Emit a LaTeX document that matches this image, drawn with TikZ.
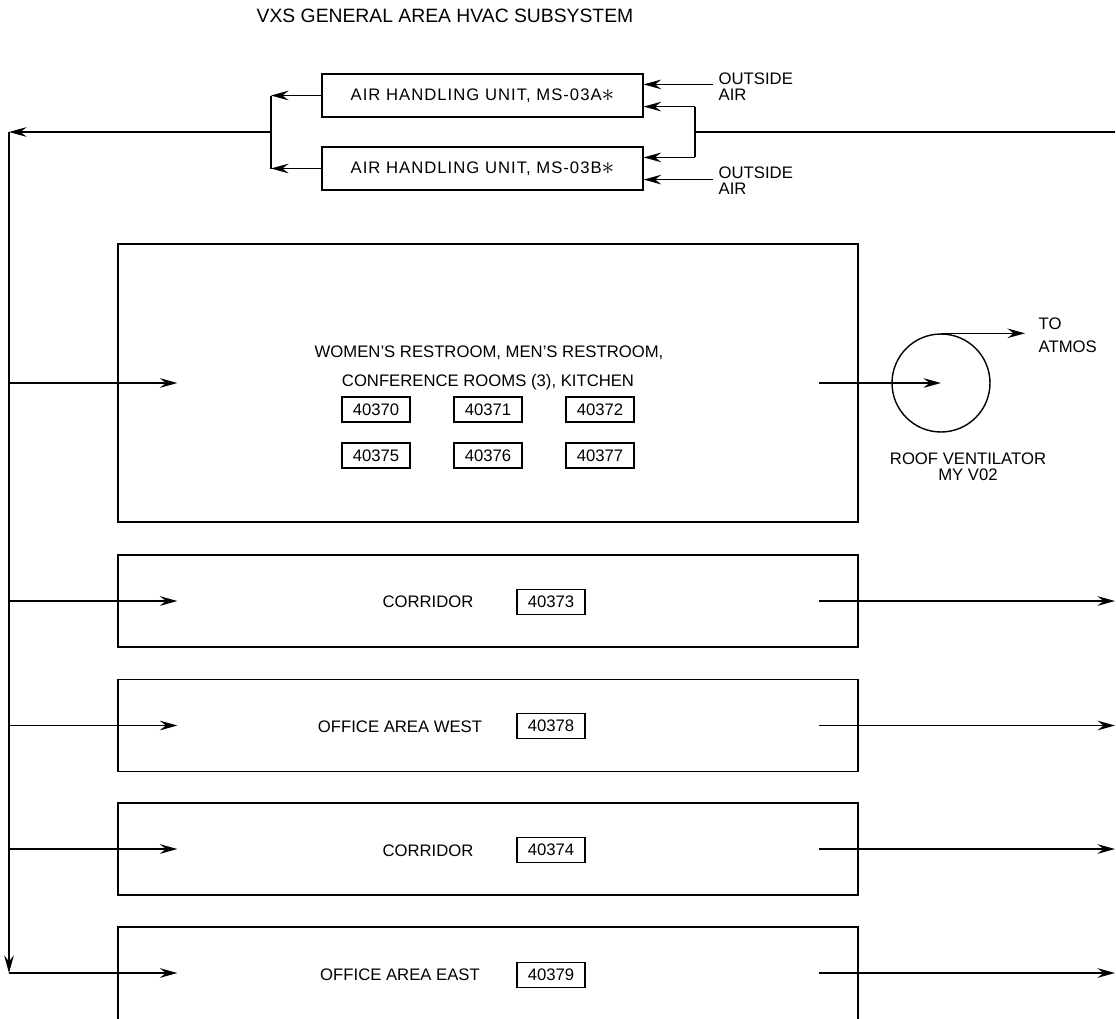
\documentclass[tikz,border=0pt]{standalone}
\usepackage{fontspec}
\setmainfont{Liberation Sans}
\usepackage{tikz}
\usetikzlibrary{arrows.meta,calc}

\newcommand{\unitstar}{\raisebox{-0.5pt}{\fontsize{15}{15}\selectfont$\ast$}}

\begin{document}
\begin{tikzpicture}[
    x=0.02cm, y=-0.02cm,
    line width=0.8pt,
    title/.style={font=\fontsize{11}{13}\selectfont},
    lbl/.style={font=\fontsize{9.5}{9.1}\selectfont, inner sep=0pt},
    unit/.style={rectangle, draw, minimum width=6.42cm, minimum height=0.86cm, inner sep=0pt,
        font=\fontsize{9.5}{11}\selectfont\addfontfeatures{LetterSpace=6}},
    room/.style={rectangle, draw, minimum width=14.8cm, minimum height=1.84cm, inner sep=0pt},
    tag/.style={rectangle, draw, minimum width=1.36cm, minimum height=0.5cm, inner sep=0pt, font=\fontsize{9.5}{11}\selectfont},
    arrow/.style={-{Stealth[length=10pt, width=5.5pt, inset=3.5pt]}}
]
    \path[use as bounding box, clip] (0,0) rectangle (1116,1018);

    \node[title] (title) at (445,16) {VXS GENERAL AREA HVAC SUBSYSTEM};

    % air handling units
    \node[unit] (ahuA) at (482.5,95.5) {AIR HANDLING UNIT, MS-03A\unitstar};
    \node[unit] (ahuB) at (482.5,168.5) {AIR HANDLING UNIT, MS-03B\unitstar};

    \coordinate (split) at (271,132);
    \coordinate (merge) at (695,132);
    \coordinate (busTop) at (9,132);
    \coordinate (busBot) at (9,973);
    \coordinate (edge) at (1115,0);

    \coordinate (oaA) at ($(ahuA.north east)!0.25!(ahuA.south east)$);
    \coordinate (inA) at ($(ahuA.north east)!0.75!(ahuA.south east)$);
    \coordinate (inB) at ($(ahuB.north east)!0.25!(ahuB.south east)$);
    \coordinate (oaB) at ($(ahuB.north east)!0.75!(ahuB.south east)$);

    \node[lbl, align=left, anchor=north west] (oaLblA) at (718,72) {OUTSIDE\\AIR};
    \node[lbl, align=left, anchor=north west] (oaLblB) at (718,166) {OUTSIDE\\AIR};

    \draw[arrow] ($(oaA -| oaLblA.west)+(-5,0)$) -- (oaA);
    \draw[arrow] ($(oaB -| oaLblB.west)+(-5,0)$) -- (oaB);
    \draw[arrow] (inA -| merge) -- (inA);
    \draw[arrow] (inB -| merge) -- (inB);
    \draw (inA -| merge) -- (inB -| merge);
    \draw (merge) -- (merge -| edge);

    \draw[arrow] (ahuA.west) -- (ahuA.west -| split);
    \draw[arrow] (ahuB.west) -- (ahuB.west -| split);
    \draw (ahuA.west -| split) -- (ahuB.west -| split);
    \draw[arrow] (split) -- (busTop);
    \draw[arrow] (busTop) -- (busBot);

    % restrooms, conference rooms, kitchen
    \node[room, minimum height=5.56cm] (wc) at (488,383) {};
    \node[lbl] (wcText) at (489,353) {WOMEN'S RESTROOM, MEN'S RESTROOM,};
    \node[lbl] (wcText2) at (488,382) {CONFERENCE ROOMS (3), KITCHEN};
    \node[tag] (t40370) at (376,409.5) {40370};
    \node[tag] (t40371) at (488,409.5) {40371};
    \node[tag] (t40372) at (600,409.5) {40372};
    \node[tag] (t40375) at (376,455.5) {40375};
    \node[tag] (t40376) at (488,455.5) {40376};
    \node[tag] (t40377) at (600,455.5) {40377};

    \node[circle, draw, minimum size=1.96cm, inner sep=0pt] (fan) at (941,383) {};
    \node[lbl, align=center] (fanLbl) at (968,467) {ROOF VENTILATOR\\MY V02};
    \node[lbl, align=left, anchor=north west, font=\fontsize{9.5}{13}\selectfont] (atmos) at (1038,317) {TO\\ATMOS};

    \draw[arrow] (wc.west -| busTop) -- ($(wc.west)+(60,0)$);
    \draw[arrow] ($(wc.east)+(-40,0)$) -- (fan.center);
    \draw[arrow] (fan.north) -- ($(fan.north -| atmos.west)+(-13,0)$);

    % corridors and offices
    \node[room] (corA) at (488,601) {};
    \node[lbl] (corAText) at (428,602) {CORRIDOR};
    \node[tag] (t40373) at (551,602) {40373};

    \node[room] (offW) at (488,725.5) {};
    \node[lbl] (offWText) at (400,727) {OFFICE AREA WEST};
    \node[tag] (t40378) at (551,726) {40378};

    \node[room] (corB) at (488,849) {};
    \node[lbl] (corBText) at (428,851) {CORRIDOR};
    \node[tag] (t40374) at (551,850) {40374};

    \node[room, minimum height=2cm] (offE) at (488,977) {};
    \node[lbl] (offEText) at (400,975) {OFFICE AREA EAST};
    \node[tag] (t40379) at (551,975) {40379};

    \draw[arrow] (corA.west -| busTop) -- ($(corA.west)+(60,0)$);
    \draw[arrow] (offW.west -| busTop) -- ($(offW.west)+(60,0)$);
    \draw[arrow] (corB.west -| busTop) -- ($(corB.west)+(60,0)$);
    \draw[arrow] (busBot) -- ($(busBot -| offE.west)+(60,0)$);

    \draw[arrow] ($(corA.east)+(-40,0)$) -- (corA.east -| edge);
    \draw[arrow] ($(offW.east)+(-40,0)$) -- (offW.east -| edge);
    \draw[arrow] ($(corB.east)+(-40,0)$) -- (corB.east -| edge);
    \draw[arrow] ($(busBot -| offE.east)+(-40,0)$) -- (busBot -| edge);
\end{tikzpicture}
\end{document}
